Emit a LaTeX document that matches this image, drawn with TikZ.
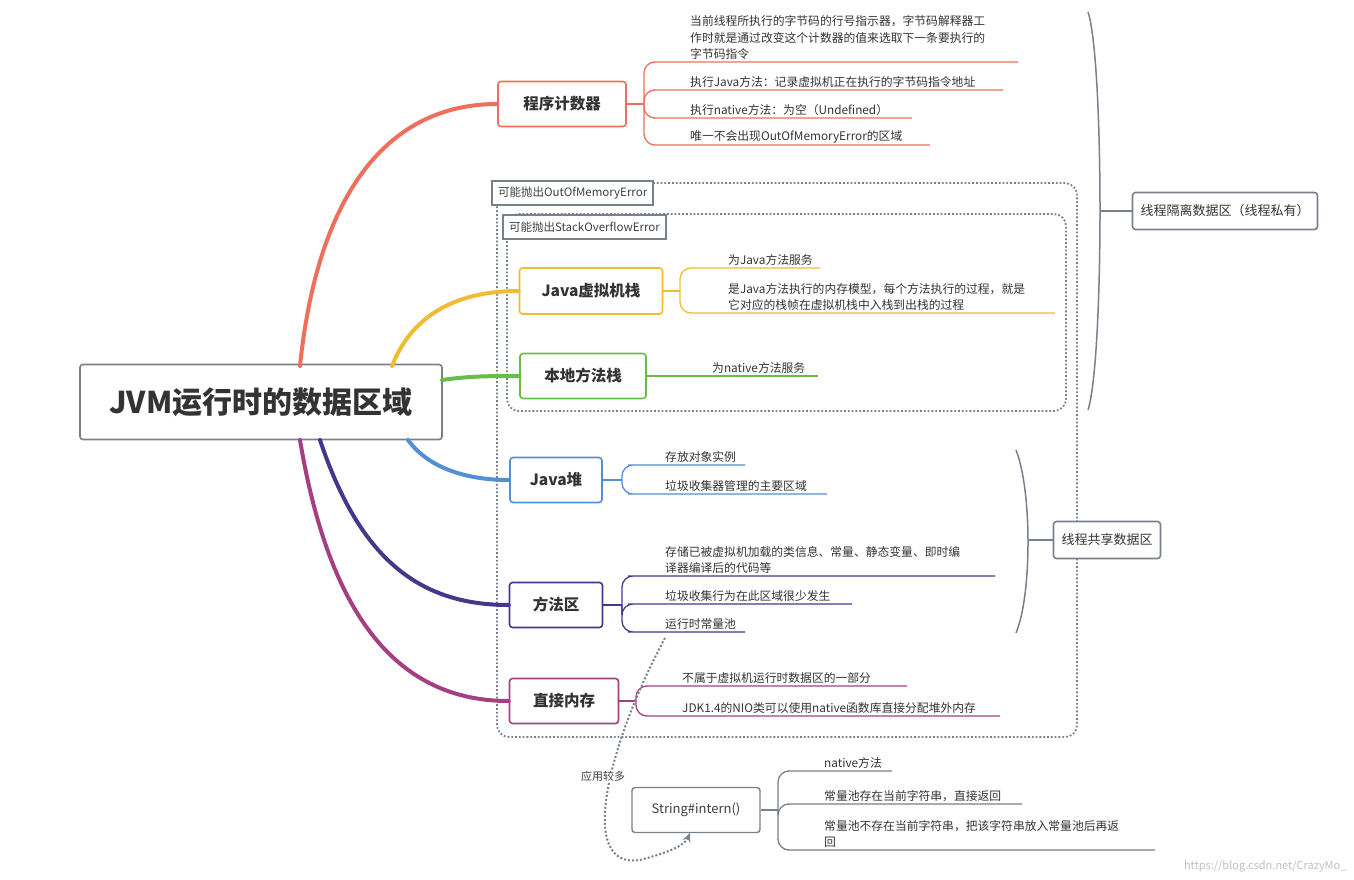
\documentclass[tikz,border=0pt]{standalone}
\usepackage{fontspec}
\setmainfont{Noto Sans CJK SC}
\usetikzlibrary{positioning,arrows.meta}
\definecolor{pcred}{RGB}{238,112,92}
\definecolor{stkyel}{RGB}{240,188,50}
\definecolor{natgrn}{RGB}{104,188,72}
\definecolor{heapblu}{RGB}{84,142,212}
\definecolor{methpur}{RGB}{72,54,140}
\definecolor{dirmag}{RGB}{164,64,130}
\definecolor{boxgray}{RGB}{120,128,140}
\tikzset{
  area/.style={draw=#1, line width=1.6pt, rounded corners=3pt, fill=white,
    font=\fontsize{15.5}{18}\selectfont\bfseries, text=black!80, inner xsep=6pt, minimum height=45pt},
  leaf/.style={anchor=south west, inner sep=2pt, align=left,
    font=\fontsize{11.8}{16.5}\selectfont, text=black!80},
  twig/.style={draw=#1, line width=1.3pt, rounded corners=11pt},
  limb/.style={draw=#1, line width=4pt, line cap=round},
  tag/.style={draw=boxgray, line width=2pt, fill=white, font=\fontsize{11.5}{13}\selectfont,
    text=black!75, inner xsep=6pt, minimum height=24pt},
  region/.style={draw=boxgray, line width=1.8pt, dotted, rounded corners=12pt},
  side/.style={draw=boxgray, line width=1.6pt, rounded corners=3pt, fill=white,
    font=\fontsize{13}{15}\selectfont, text=black!80, inner xsep=8pt, minimum height=37pt},
}
% one child line: colour, fork, name, text x, line y, end x, text
\newcommand{\twigleaf}[7]{%
  \node[leaf] (#3) at (#4,#5) {#7};
  \coordinate (#3e) at (#6,#5);
  \draw[twig=#1] (#2) |- ([xshift=-24pt]#3.south west) -- (#3e);}
\begin{document}
\begin{tikzpicture}[x=1pt,y=-1pt]
\useasboundingbox (0,0) rectangle (1354,880);

% dotted regions
\draw[region] (497,183) rectangle (1077,737);
\draw[region] (507,214) rectangle (1066,411);
\node[tag, anchor=north west] (oom) at (491,180) {可能抛出OutOfMemoryError};
\node[tag, anchor=north west] (soe) at (502,214) {可能抛出StackOverflowError};

% root and areas
\node[area=boxgray, font=\fontsize{30}{34}\selectfont\bfseries, minimum width=362pt, minimum height=75pt] (jvm) at (261,402) {JVM运行时的数据区域};
\node[area=pcred, minimum width=128pt] (pc) at (562,104) {程序计数器};
\node[area=stkyel, minimum width=143pt, minimum height=46pt] (jstack) at (591,291) {Java虚拟机栈};
\node[area=natgrn, minimum width=126pt] (nstack) at (583,376) {本地方法栈};
\node[area=heapblu, minimum width=92pt] (heap) at (556,480) {Java堆};
\node[area=methpur, minimum width=93pt] (meth) at (556,605) {方法区};
\node[area=dirmag, minimum width=109pt] (direct) at (564,701) {直接内存};
\node[area=boxgray, line width=1.4pt, minimum width=128pt, font=\fontsize{13}{15}\selectfont, text=black!75] (intern) at (696,810) {String\#intern()};

% limbs from the root
\draw[limb=pcred] (300,366) .. controls (318,190) and (390,104) .. (pc.west);
\draw[limb=stkyel] (392,366) .. controls (410,320) and (450,291) .. (jstack.west);
\draw[limb=natgrn] (442,380) .. controls (470,376) and (490,376) .. (nstack.west);
\draw[limb=heapblu] (408,440) .. controls (430,470) and (470,480) .. (heap.west);
\draw[limb=methpur] (320,440) .. controls (360,560) and (420,605) .. (meth.west);
\draw[limb=dirmag] (300,440) .. controls (330,620) and (400,701) .. (direct.west);

% program counter
\coordinate (pcf) at (644,104);
\draw[twig=pcred] (pc.east) -- (pcf);
\twigleaf{pcred}{pcf}{pc1}{688}{62}{1018}{当前线程所执行的字节码的行号指示器，字节码解释器工\\作时就是通过改变这个计数器的值来选取下一条要执行的\\字节码指令}
\twigleaf{pcred}{pcf}{pc2}{688}{90}{1003}{执行Java方法：记录虚拟机正在执行的字节码指令地址}
\twigleaf{pcred}{pcf}{pc3}{688}{118}{912}{执行native方法：为空（Undefined）}
\twigleaf{pcred}{pcf}{pc4}{688}{145}{930}{唯一不会出现OutOfMemoryError的区域}

% java stack
\coordinate (jsf) at (680,291);
\draw[twig=stkyel] (jstack.east) -- (jsf);
\twigleaf{stkyel}{jsf}{js1}{726}{268}{820}{为Java方法服务}
\twigleaf{stkyel}{jsf}{js2}{726}{313}{1055}{是Java方法执行的内存模型，每个方法执行的过程，就是\\它对应的栈帧在虚拟机栈中入栈到出栈的过程}

% native stack
\node[leaf] (ns1) at (710,376) {为native方法服务};
\coordinate (ns1e) at (818,376);
\draw[twig=natgrn] (nstack.east) -- (ns1e);

% heap
\coordinate (hpf) at (622,480);
\draw[twig=heapblu] (heap.east) -- (hpf);
\twigleaf{heapblu}{hpf}{hp1}{663}{465}{745}{存放对象实例}
\twigleaf{heapblu}{hpf}{hp2}{663}{494}{827}{垃圾收集器管理的主要区域}

% method area
\coordinate (mtf) at (622,605);
\draw[twig=methpur] (meth.east) -- (mtf);
\twigleaf{methpur}{mtf}{mt1}{663}{576}{995}{存储已被虚拟机加载的类信息、常量、静态变量、即时编\\译器编译后的代码等}
\twigleaf{methpur}{mtf}{mt2}{663}{604}{852}{垃圾收集行为在此区域很少发生}
\twigleaf{methpur}{mtf}{mt3}{663}{632}{745}{运行时常量池}

% direct memory
\coordinate (drf) at (636,701);
\draw[twig=dirmag] (direct.east) -- (drf);
\twigleaf{dirmag}{drf}{dr1}{680}{686}{907}{不属于虚拟机运行时数据区的一部分}
\twigleaf{dirmag}{drf}{dr2}{680}{716}{1000}{JDK1.4的NIO类可以使用native函数库直接分配堆外内存}

% string intern
\coordinate (inf) at (778,810);
\draw[twig=boxgray] (intern.east) -- (inf);
\twigleaf{boxgray}{inf}{in1}{822}{771}{892}{native方法}
\twigleaf{boxgray}{inf}{in2}{822}{804}{1022}{常量池存在当前字符串，直接返回}
\twigleaf{boxgray}{inf}{in3}{822}{850}{1155}{常量池不存在当前字符串，把该字符串放入常量池后再返\\回}

% used often
\draw[draw=boxgray, line width=2pt, dotted, -{Stealth[length=9pt,width=8pt]}]
  (665,638) .. controls (610,740) and (575,870) .. (640,860)
  .. controls (670,852) and (685,845) .. (690,833);
\node[font=\fontsize{11}{13}\selectfont, text=black!75, fill=white, inner sep=1pt] (often) at (603,776) {应用较多};

% braces on the right
\node[side] (priv) at (1225,211) {线程隔离数据区（线程私有）};
\node[side] (shared) at (1107,540) {线程共享数据区};
\draw[boxgray, line width=1.5pt] (1088,12) .. controls (1104,60) and (1104,360) .. (1088,410);
\draw[boxgray, line width=1.5pt] (1101,211) -- (priv.west);
\draw[boxgray, line width=1.5pt] (1016,450) .. controls (1032,490) and (1032,595) .. (1016,633);
\draw[boxgray, line width=1.5pt] (1029,540) -- (shared.west);

\node[anchor=south east, font=\fontsize{11}{13}\selectfont, text=black!25] (mark) at (1350,876) {https://blog.csdn.net/CrazyMo\_};
\end{tikzpicture}
\end{document}
